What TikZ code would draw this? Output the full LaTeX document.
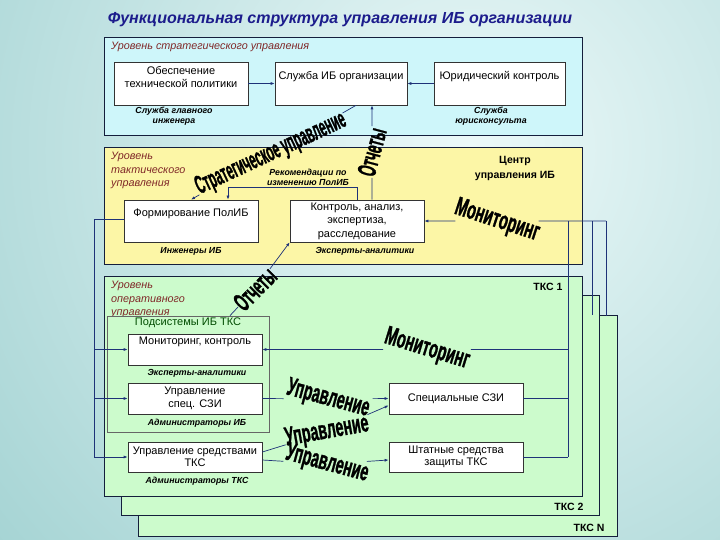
\documentclass[tikz,border=0pt]{standalone}
\usepackage{fontspec}
\setmainfont{Liberation Sans}
\newfontfamily\artfont{Liberation Sans Bold}[FakeBold=1.5]
\usetikzlibrary{arrows.meta}
\definecolor{bglight}{RGB}{236,249,249}
\definecolor{bgdark}{RGB}{156,207,207}
\definecolor{stratfill}{RGB}{206,246,250}
\definecolor{tactfill}{RGB}{252,246,166}
\definecolor{operfill}{RGB}{204,251,204}
\definecolor{linkblue}{RGB}{30,50,120}
\definecolor{levelred}{RGB}{128,40,40}
\definecolor{titleblue}{RGB}{28,28,140}
\definecolor{panelline}{RGB}{20,30,60}

\begin{document}
\begin{tikzpicture}[x=1pt, y=-1pt,
  font=\fontsize{11}{12.5}\selectfont,
  panel/.style={draw=panelline, line width=0.9pt},
  unit/.style={draw=black!80, fill=white, line width=0.7pt, minimum width=134pt, align=center, inner sep=2pt},
  staff/.style={font=\fontsize{8.8}{10}\selectfont\bfseries\itshape, align=center},
  level/.style={font=\fontsize{10.8}{13.5}\selectfont\itshape, text=levelred, align=left, anchor=north west, inner sep=0pt},
  tag/.style={font=\fontsize{10.5}{15}\selectfont\bfseries, align=center},
  link/.style={draw=linkblue, line width=0.7pt},
  tip/.style={link, -{Latex[length=4pt,width=3pt]}},
  wordart/.style={font=\artfont\fontsize{26}{26}\selectfont, text=black, inner sep=1pt}
]
\def\pad#1{\rule[-#1]{0pt}{#1}}
\useasboundingbox (0,0) rectangle (720,540);
% background
\begin{scope}
\clip (0,0) rectangle (720,540);
\shade[inner color=bglight, outer color=bgdark] (470,150) circle (700pt);
\end{scope}

\node[font=\fontsize{16}{16}\selectfont\bfseries\itshape, text=titleblue] (title) at (340,20) {Функциональная структура управления ИБ организации};

% levels
\draw[panel, fill=stratfill] (104,37) rectangle (582,135);
\draw[panel, fill=tactfill] (104,147) rectangle (582,264);
\draw[panel, fill=operfill] (138,315) rectangle (617,536);
\draw[panel, fill=operfill] (121,295) rectangle (599,515);
\draw[panel, fill=operfill] (104,276) rectangle (582,496);

\node[level] (strlevel) at (111,42) {Уровень стратегического управления};
\node[level] (taclevel) at (111,152) {Уровень\\тактического\\управления};
\node[level] (oplevel) at (111,281) {Уровень\\оперативного\\управления};
\node[tag] (center) at (515,168.5) {Центр\\управления ИБ};
\node[tag] (tks1) at (548,286.5) {ТКС 1};
\node[tag] (tks2) at (569,507) {ТКС 2};
\node[tag] (tksn) at (589,528) {ТКС N};

% strategic level
\node[unit, minimum height=43pt] (techpol) at (181,83.5) {Обеспечение\\технической политики\pad{13pt}};
\node[unit, minimum height=43pt, minimum width=132pt] (ibserv) at (341,83.5) {Служба ИБ организации\pad{17pt}};
\node[unit, minimum height=43pt, minimum width=131pt] (legal) at (499.5,83.5) {Юридический контроль\pad{17pt}};
\node[staff] (chiefeng) at (174,116) {Служба главного\\инженера};
\node[staff] (lawyers) at (491,116) {Служба\\юрисконсульта};
\draw[tip] (techpol) -- (ibserv);
\draw[tip] (legal) -- (ibserv);

% tactical level
\node[unit, minimum height=42pt] (polform) at (191,221) {Формирование ПолИБ\pad{17pt}};
\node[unit, minimum height=42pt, font=\fontsize{11}{13.6}\selectfont] (audit) at (357,221) {Контроль, анализ,\\экспертиза,\\расследование};
\node[staff] (ibeng) at (191,251) {Инженеры ИБ};
\node[staff] (analysts1) at (365,251) {Эксперты-аналитики};
\node[staff] (recnote) at (308,177) {Рекомендации по\\изменению ПолИБ};
\draw[tip] (audit.north) -- ++(0,-12) -| ([xshift=37pt]polform.north);

% operational level
\node[draw=black!60, fill=operfill, line width=0.8pt, minimum width=162pt, minimum height=116pt, inner sep=0pt] (subsys) at (188,374) {};
\node[text=green!30!black] (subsystitle) at (188,323) {Подсистемы ИБ ТКС};
\node[unit, minimum height=31pt] (monitor) at (195,349.5) {Мониторинг, контроль\pad{17pt}};
\node[unit, minimum height=31pt] (specctl) at (195,398.5) {Управление\\спец. СЗИ};
\node[unit, minimum height=30pt] (tksctl) at (195,457) {Управление средствами\\ТКС};
\node[unit, minimum height=31pt] (specszi) at (456,398.5) {Специальные СЗИ};
\node[unit, minimum height=30pt] (stdszi) at (456,457) {Штатные средства\\защиты ТКС};
\node[staff] (analysts2) at (197,373.5) {Эксперты-аналитики};
\node[staff] (ibadmins) at (197,423) {Администраторы ИБ};
\node[staff] (tksadmins) at (197,481) {Администраторы ТКС};

% buses
\coordinate (busL) at (94,219);
\coordinate (busA) at (568,221);
\coordinate (busB) at (592,221);
\coordinate (busC) at (606,221);
\coordinate (tks2in) at (592,315);
\coordinate (tksNin) at (606,316);

\draw[link] (polform.west |- busL) -- (busL) -- (busL |- tksctl.west);
\draw[tip] (busL |- monitor.west) -- (monitor.west);
\draw[tip] (busL |- specctl.west) -- (specctl.west);
\draw[tip] (busL |- tksctl.west) -- (tksctl.west);
\draw[link] (busA) -- (busA |- stdszi.east);
\draw[link] (busB) -- (tks2in);
\draw[link] (busC) -- (tksNin);
\draw[link] (specszi.east) -- (specszi.east -| busA);
\draw[link] (stdszi.east) -- (stdszi.east -| busA);

% flows
\node[rotate=25, wordart, xscale=0.45] (stratword) at (271,154) {Стратегическое управление};
\draw[link] ([xshift=15pt]ibserv.south) -- (stratword);
\draw[tip] (stratword) -- (polform.north);

\node[rotate=75, wordart, xscale=0.5] (reportup) at (372,152) {Отчеты};
\draw[tip] (reportup) -- (reportup |- ibserv.south);
\draw[link] (reportup) -- (reportup |- audit.north);

\node[rotate=-18, wordart, xscale=0.56] (monword1) at (497,221) {Мониторинг};
\draw[tip] (monword1) -- (audit.east);
\draw[link] (monword1) -- (busC);

\node[rotate=45, wordart, xscale=0.5] (reportdn) at (255,289) {Отчеты};
\draw[link] ([xshift=42pt]subsys.north) -- (reportdn);
\draw[tip] (reportdn) -- (audit.south west);

\node[rotate=-17, wordart, xscale=0.56] (monword2) at (427,349.5) {Мониторинг};
\draw[link] (busA |- monword2) -- (monword2);
\draw[tip] (monword2) -- (monitor.east);

\node[rotate=-15, wordart, xscale=0.55] (ctlword1) at (328,399) {Управление};
\draw[link] (specctl.east) -- (ctlword1);
\draw[tip] (ctlword1) -- (specszi.west);
\node[rotate=10, wordart, xscale=0.55] (ctlword2) at (327,432) {Управление};
\draw[link] ([yshift=5pt]tksctl.east) -- (ctlword2);
\draw[tip] (ctlword2) -- ([yshift=-7pt]specszi.west);
\node[rotate=-15, wordart, xscale=0.55] (ctlword3) at (327,464) {Управление};
\draw[link] ([yshift=-3pt]tksctl.east) -- (ctlword3);
\draw[tip] (ctlword3) -- ([yshift=-3pt]stdszi.west);
\end{tikzpicture}
\end{document}
